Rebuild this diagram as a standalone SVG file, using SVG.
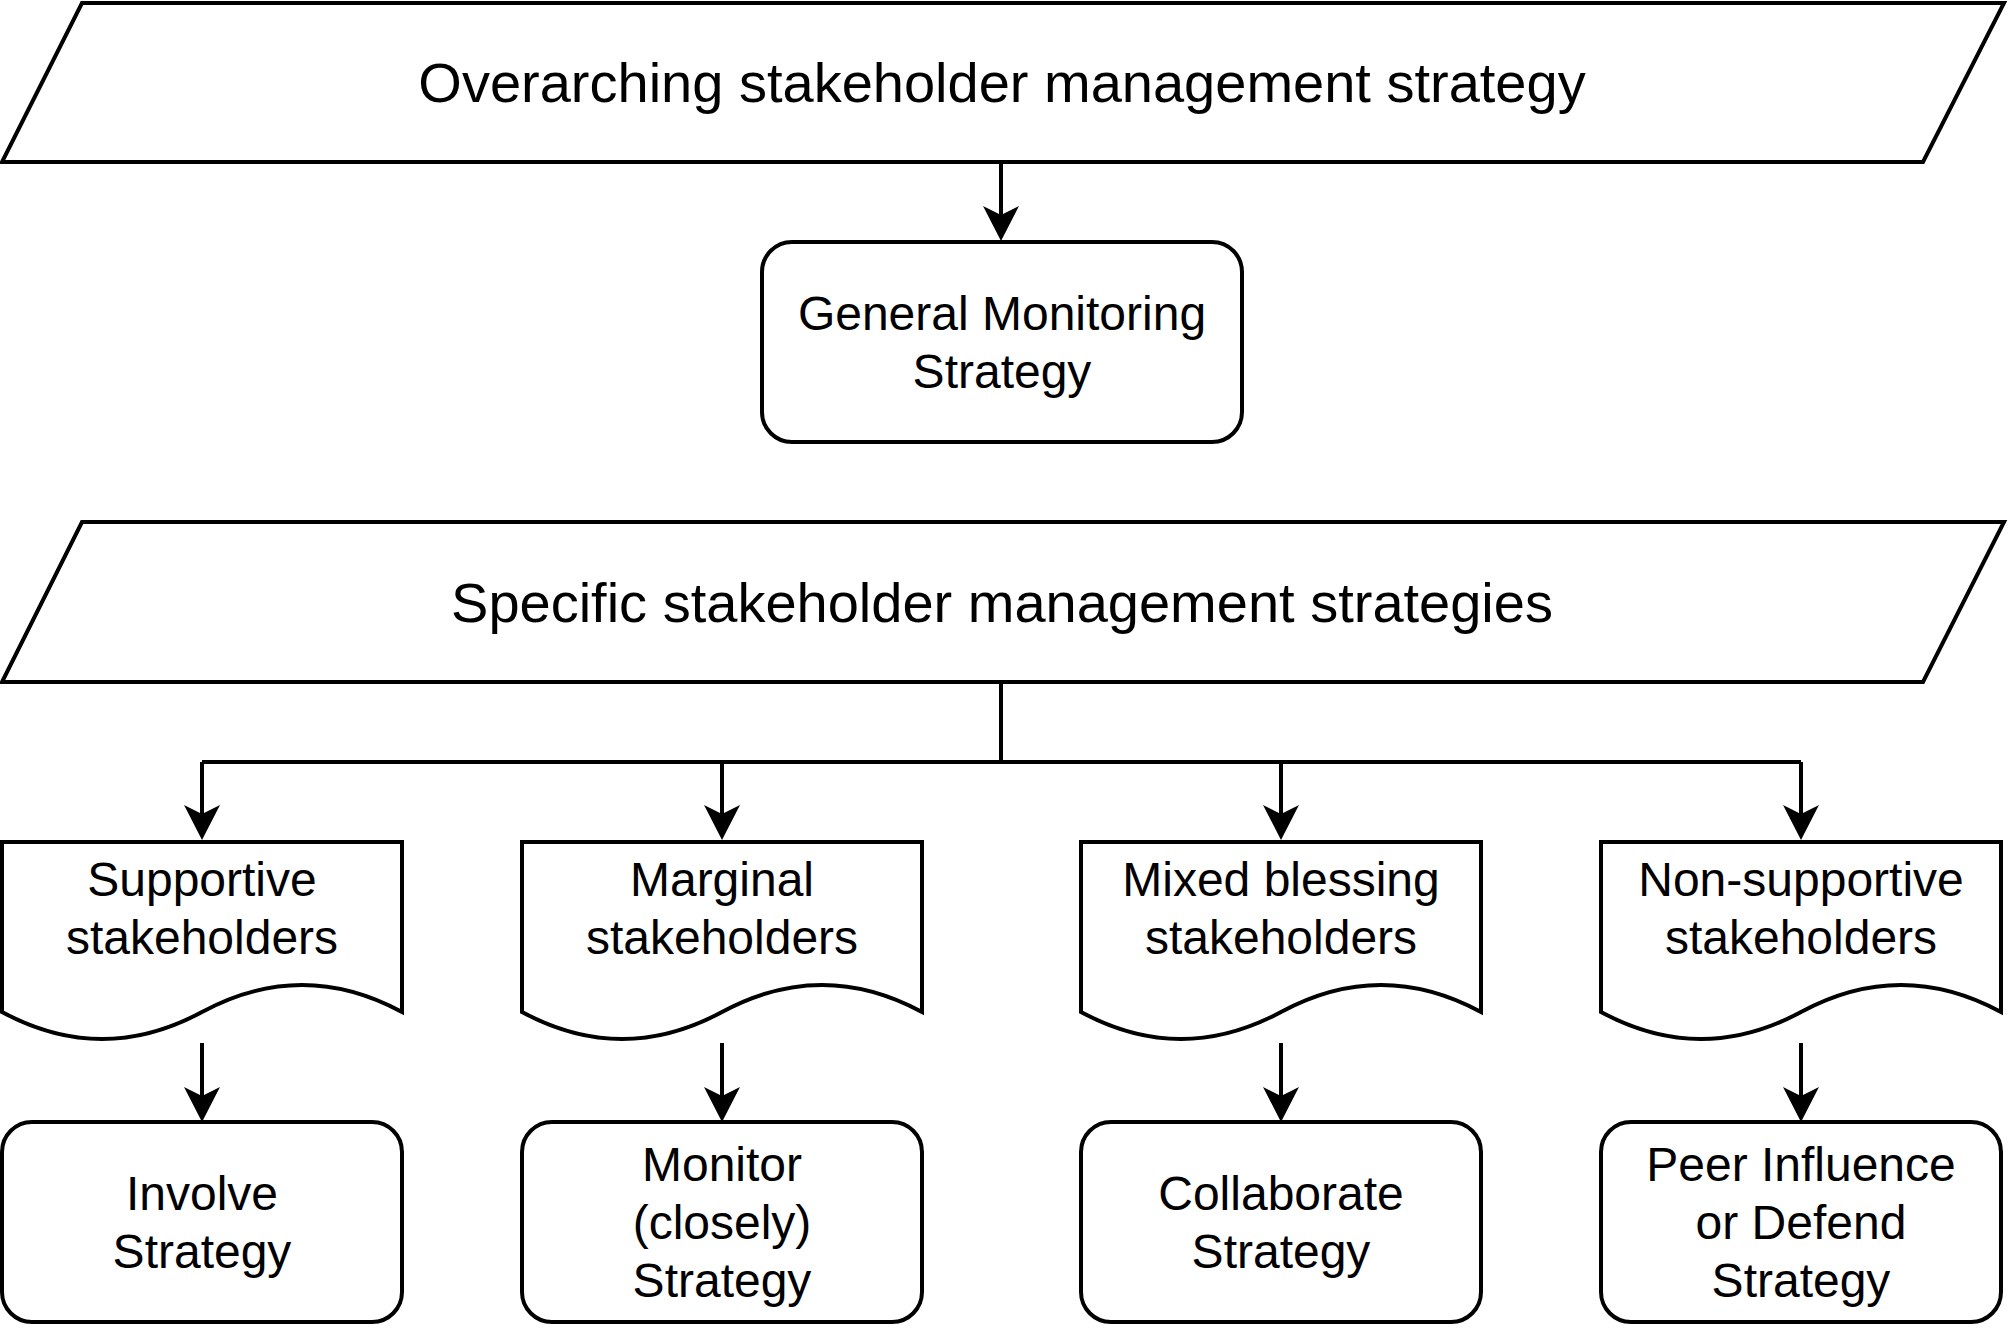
<svg xmlns="http://www.w3.org/2000/svg" width="2008" height="1328" viewBox="0 0 2008 1328">
<defs>
<marker id="arr" viewBox="0 -18 35 36" refX="25" refY="0" markerWidth="35" markerHeight="36" markerUnits="userSpaceOnUse" orient="auto">
<path d="M0,-18 L35,0 L0,18 L9,0 Z" fill="#000"/>
</marker>
</defs>
<style>
.sh{fill:#fff;stroke:#000;stroke-width:4;stroke-linejoin:miter}
.rr{fill:#fff;stroke:#000;stroke-width:4}
.cn{fill:none;stroke:#000;stroke-width:4}
.ar{marker-end:url(#arr)}
text{font-family:"Liberation Sans",Arial,Helvetica,sans-serif;fill:#000;text-anchor:middle}
.h{font-size:56px}
.t{font-size:48px}
</style>
<rect width="2008" height="1328" fill="#fff"/>
<g id="connectors">
<path class="cn ar" d="M1001,162 V231"/>
<path class="cn" d="M1001,682 V762 M202,762 H1801"/>
<path class="cn ar" d="M202,762 V830"/>
<path class="cn ar" d="M722,762 V830"/>
<path class="cn ar" d="M1281,762 V830"/>
<path class="cn ar" d="M1801,762 V830"/>
<path class="cn ar" d="M202,1043 V1112"/>
<path class="cn ar" d="M722,1043 V1112"/>
<path class="cn ar" d="M1281,1043 V1112"/>
<path class="cn ar" d="M1801,1043 V1112"/>
</g>
<g id="overarching">
<path class="sh" d="M82,3 H2004 L1923,162 H2 Z"/>
<text class="h" x="1002" y="102">Overarching stakeholder management strategy</text>
</g>
<g id="general-monitoring">
<rect class="rr" x="762" y="242" width="480" height="200" rx="30" ry="30"/>
<text class="t" x="1002" y="330">General Monitoring</text>
<text class="t" x="1002" y="388">Strategy</text>
</g>
<g id="specific">
<path class="sh" d="M82,522 H2004 L1923,682 H2 Z"/>
<text class="h" x="1002" y="622">Specific stakeholder management strategies</text>
</g>
<g id="supportive">
<path class="sh" d="M2,842 H402 V1012 Q302,958 202,1012 Q102,1066 2,1012 Z"/>
<text class="t" x="202" y="896">Supportive</text>
<text class="t" x="202" y="954">stakeholders</text>
</g>
<g id="marginal">
<path class="sh" d="M522,842 H922 V1012 Q822,958 722,1012 Q622,1066 522,1012 Z"/>
<text class="t" x="722" y="896">Marginal</text>
<text class="t" x="722" y="954">stakeholders</text>
</g>
<g id="mixed">
<path class="sh" d="M1081,842 H1481 V1012 Q1381,958 1281,1012 Q1181,1066 1081,1012 Z"/>
<text class="t" x="1281" y="896">Mixed blessing</text>
<text class="t" x="1281" y="954">stakeholders</text>
</g>
<g id="nonsupportive">
<path class="sh" d="M1601,842 H2001 V1012 Q1901,958 1801,1012 Q1701,1066 1601,1012 Z"/>
<text class="t" x="1801" y="896">Non-supportive</text>
<text class="t" x="1801" y="954">stakeholders</text>
</g>
<g id="involve">
<rect class="rr" x="2" y="1122" width="400" height="200" rx="30" ry="30"/>
<text class="t" x="202" y="1210">Involve</text>
<text class="t" x="202" y="1268">Strategy</text>
</g>
<g id="monitor">
<rect class="rr" x="522" y="1122" width="400" height="200" rx="30" ry="30"/>
<text class="t" x="722" y="1181">Monitor</text>
<text class="t" x="722" y="1239">(closely)</text>
<text class="t" x="722" y="1297">Strategy</text>
</g>
<g id="collaborate">
<rect class="rr" x="1081" y="1122" width="400" height="200" rx="30" ry="30"/>
<text class="t" x="1281" y="1210">Collaborate</text>
<text class="t" x="1281" y="1268">Strategy</text>
</g>
<g id="peer">
<rect class="rr" x="1601" y="1122" width="400" height="200" rx="30" ry="30"/>
<text class="t" x="1801" y="1181">Peer Influence</text>
<text class="t" x="1801" y="1239">or Defend</text>
<text class="t" x="1801" y="1297">Strategy</text>
</g>
</svg>
